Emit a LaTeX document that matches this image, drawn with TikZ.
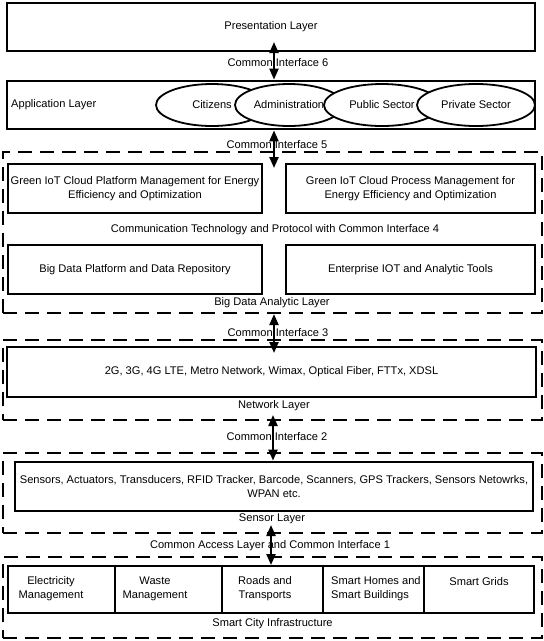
\documentclass[tikz,border=0pt]{standalone}
\usepackage{fontspec}
\setmainfont{Liberation Sans}
\usetikzlibrary{arrows.meta,shapes.geometric}
\begin{document}
\begin{tikzpicture}[x=1pt,y=-1pt,
  font=\fontsize{11.1}{13.5}\selectfont,
  box/.style={draw, line width=2.8pt, inner sep=0pt, align=center},
  dbox/.style={draw, line width=2.2pt, dash pattern=on 14pt off 8pt, inner sep=0pt},
  cellbox/.style={draw, line width=2pt, inner sep=0pt, minimum height=47pt},
  ell/.style={ellipse, draw, fill=white, line width=1.8pt, inner sep=0pt, minimum height=42pt},
  lbl/.style={inner sep=0pt, align=center},
  arr/.style={line width=2.2pt, {Triangle[length=11pt,width=9pt]}-{Triangle[length=11pt,width=9pt]}}]
\fill[white] (0,0) rectangle (544,641);
\useasboundingbox (0,0) rectangle (544,641);

% Presentation layer
\node[box, minimum width=528pt, minimum height=48pt] (pres) at (271,27) {Presentation Layer};

% Application layer
\node[box, minimum width=528pt, minimum height=48pt] (app) at (271,105) {};
\node[lbl, anchor=west] (applbl) at (11,105) {Application Layer};
\node[ell, minimum width=112pt] (cit) at (212,105) {Citizens};
\node[ell, minimum width=108pt] (adm) at (289,105) {Administration};
\node[ell, minimum width=116pt] (pub) at (382,105) {Public Sector};
\node[ell, minimum width=118pt] (pri) at (476,105) {Private Sector};

% Big data analytic layer
\node[dbox, minimum width=539pt, minimum height=161pt] (bd) at (272.5,232.5) {};
\node[box, minimum width=254pt, minimum height=49pt] (gl) at (135,188.5)
  {Green IoT Cloud Platform Management for Energy\\Efficiency and Optimization};
\node[box, minimum width=249pt, minimum height=49pt] (gr) at (410.5,188.5)
  {Green IoT Cloud Process Management for\\Energy Efficiency and Optimization};
\node[lbl] (comm4) at (275,230) {Communication Technology and Protocol with Common Interface 4};
\node[box, minimum width=254pt, minimum height=49pt] (bl) at (135,269.5) {Big Data Platform and Data Repository};
\node[box, minimum width=249pt, minimum height=49pt] (br) at (410.5,269.5) {Enterprise IOT and Analytic Tools};
\node[lbl] (bdlbl) at (272,303) {Big Data Analytic Layer};

% Network layer
\node[dbox, minimum width=539pt, minimum height=80pt] (net) at (272.5,380) {};
\node[box, minimum width=529pt, minimum height=50pt] (netin) at (271.5,372)
  {2G, 3G, 4G LTE, Metro Network, Wimax, Optical Fiber, FTTx, XDSL};
\node[lbl] (netlbl) at (274,406) {Network Layer};

% Sensor layer
\node[dbox, minimum width=539pt, minimum height=80pt] (sen) at (272.5,493) {};
\node[box, minimum width=518pt, minimum height=49pt] (senin) at (274,486.5)
  {Sensors, Actuators, Transducers, RFID Tracker, Barcode, Scanners, GPS Trackers, Sensors Netowrks,\\WPAN etc.};
\node[lbl] (senlbl) at (272,519) {Sensor Layer};

% Smart city infrastructure
\node[dbox, minimum width=539pt, minimum height=81pt] (sci) at (272.5,597.5) {};
\node[cellbox, minimum width=107pt] (c1) at (61.5,589.5) {};
\node[cellbox, minimum width=107pt] (c2) at (168.5,589.5) {};
\node[cellbox, minimum width=101pt] (c3) at (272.5,589.5) {};
\node[cellbox, minimum width=101pt] (c4) at (373.5,589.5) {};
\node[cellbox, minimum width=110pt] (c5) at (479,589.5) {};
\node[lbl, font=\fontsize{11.1}{14}\selectfont] (t1) at (51,589) {Electricity\\Management};
\node[lbl, font=\fontsize{11.1}{14}\selectfont] (t2) at (155,589) {Waste\\Management};
\node[lbl, font=\fontsize{11.1}{14}\selectfont] (t3) at (265,589) {Roads and\\Transports};
\node[lbl, align=left, anchor=west, font=\fontsize{11.1}{14}\selectfont] (t4) at (331,589) {Smart Homes and\\Smart Buildings};
\node[lbl] (t5) at (479,582) {Smart Grids};
\node[lbl] (scilbl) at (272.5,624) {Smart City Infrastructure};

% Interfaces
\node[lbl] (ci6) at (278,63) {Common Interface 6};
\node[lbl] (ci5) at (277,145) {Common Interface 5};
\node[lbl] (ci3) at (278,333) {Common Interface 3};
\node[lbl] (ci2) at (277,437) {Common Interface 2};
\node[lbl] (ci1) at (270,546) {Common Access Layer and Common Interface 1};

% Connectors
\coordinate (p6) at (274,42);
\coordinate (q5) at (274,168);
\coordinate (q3) at (274,353);
\coordinate (p2) at (273,415);
\coordinate (p1) at (271,525);
\draw[arr] (p6) -- (p6 |- app.north);
\draw[arr] (app.south -| q5) -- (q5);
\draw[arr] (bd.south -| q3) -- (q3);
\draw[arr] (p2) -- (p2 |- senin.north);
\draw[arr] (p1) -- (p1 |- c3.north);
\end{tikzpicture}
\end{document}
